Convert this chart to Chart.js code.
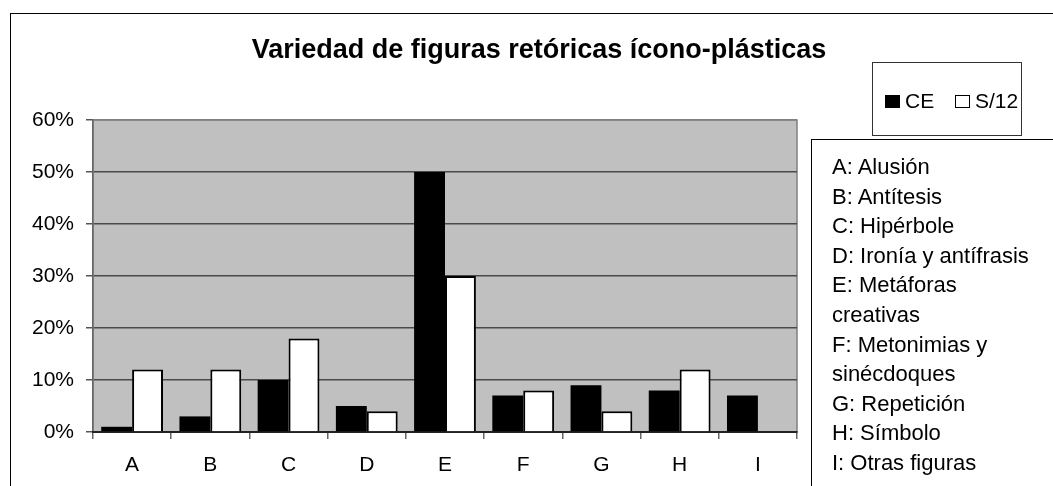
<!DOCTYPE html>
<html>
<head>
<meta charset="utf-8">
<script src="https://cdn.jsdelivr.net/npm/chart.js@4.4.1/dist/chart.umd.min.js"></script>
<style>
  html, body { margin: 0; padding: 0; background: #fff; overflow: hidden; }
  #wrap { position: relative; width: 1053px; height: 486px; overflow: hidden; font-family: "Liberation Sans", Arial, sans-serif; color: #000; }
  #frame { position: absolute; left: 10px; top: 13px; width: 2000px; height: 2000px; border-left: 1.5px solid #000; border-top: 1.5px solid #000; }
  canvas { position: absolute; left: 0; top: 0; }
  #title { position: absolute; left: 0; width: 1078px; top: 35.5px; text-align: center; font-weight: bold; font-size: 27px; line-height: 27px; white-space: nowrap; }
  #legend { position: absolute; left: 872px; top: 62px; width: 150px; height: 74px; border: 1px solid #333; box-sizing: border-box; }
  #legend .item { position: absolute; top: 26px; font-size: 21px; line-height: 24px; white-space: nowrap; }
  #legend .sw { display: inline-block; width: 15px; height: 13px; box-sizing: border-box; border: 1.5px solid #000; vertical-align: 0px; margin-right: 5px; }
  #desc { position: absolute; left: 811px; top: 139px; width: 400px; height: 400px; border-left: 1.5px solid #000; border-top: 1.5px solid #000; padding: 12px 0 0 20px; font-size: 22px; line-height: 29.6px; }
  #desc div { white-space: nowrap; }
</style>
</head>
<body>
<div id="wrap">
  <div id="frame"></div>
  <canvas id="c" width="1053" height="486"></canvas>
  <div id="title"></div>
  <div id="legend"></div>
  <div id="desc"></div>
</div>
<script>
const chartTitle = "Variedad de figuras retóricas ícono-plásticas";
const categories = ["A", "B", "C", "D", "E", "F", "G", "H", "I"];
const seriesNames = ["CE", "S/12"];
const valuesCE = [0.01, 0.03, 0.10, 0.05, 0.50, 0.07, 0.09, 0.08, 0.07];
const valuesS12 = [0.12, 0.12, 0.18, 0.04, 0.30, 0.08, 0.04, 0.12, 0];
const yTicks = [0, 0.1, 0.2, 0.3, 0.4, 0.5, 0.6];
const descriptionLines = ["A: Alusión", "B: Antítesis", "C: Hipérbole", "D: Ironía y antífrasis", "E: Metáforas", "creativas", "F: Metonimias y", "sinécdoques", "G: Repetición", "H: Símbolo", "I: Otras figuras"];

document.getElementById('title').textContent = chartTitle;
const desc = document.getElementById('desc');
descriptionLines.forEach(t => { const d = document.createElement('div'); d.textContent = t; desc.appendChild(d); });

const plotBg = {
  id: 'plotBg',
  beforeDraw(chart) {
    const {ctx, chartArea: a} = chart;
    ctx.save();
    ctx.fillStyle = '#c0c0c0';
    ctx.fillRect(a.left, a.top, a.right - a.left, a.bottom - a.top);
    ctx.strokeStyle = '#808080';
    ctx.lineWidth = 1.5;
    ctx.strokeRect(a.left, a.top, a.right - a.left, a.bottom - a.top);
    ctx.restore();
  }
};

const FONT = "'Liberation Sans', Arial, sans-serif";

const chart = new Chart(document.getElementById('c'), {
  type: 'bar',
  data: {
    labels: categories,
    datasets: [
      { label: seriesNames[0], data: valuesCE, backgroundColor: '#000000', borderColor: '#000000', borderWidth: 0, categoryPercentage: 0.79, barPercentage: 1.0 },
      { label: seriesNames[1], data: valuesS12, backgroundColor: '#ffffff', borderColor: '#000000', borderWidth: 2, categoryPercentage: 0.79, barPercentage: 1.0 }
    ]
  },
  options: {
    responsive: false,
    animation: false,
    devicePixelRatio: 1,
    layout: { padding: { left: 10, top: 120, right: 256, bottom: 0 } },
    plugins: { legend: { display: false }, title: { display: false }, tooltip: { enabled: false } },
    events: [],
    scales: {
      y: {
        min: 0, max: 0.6,
        afterBuildTicks(s) { s.ticks = yTicks.map(v => ({ value: v })); },
        afterFit(s) { s.width = 83; },
        ticks: { callback: v => Math.round(v * 100) + '%', color: '#000', padding: 12, font: { family: FONT, size: 21 } },
        grid: { color: c => (c.tick && Math.abs(c.tick.value - 0.6) < 1e-9) ? '#808080' : '#4a4a4a', lineWidth: 1.5, tickLength: 7, tickColor: '#555' },
        border: { display: true, color: '#666', width: 1.5 }
      },
      x: {
        afterFit(s) { s.height = 54; },
        ticks: { color: '#000', padding: 14, font: { family: FONT, size: 21 } },
        grid: { offset: true, drawOnChartArea: false, drawTicks: true, tickLength: 7, tickColor: '#666', lineWidth: 1.5 },
        border: { display: true, color: '#222', width: 2 }
      }
    }
  },
  plugins: [plotBg]
});

// HTML legend built from the chart's datasets
const legend = document.getElementById('legend');
const legendX = [12, 82];
chart.data.datasets.forEach((ds, i) => {
  const item = document.createElement('div');
  item.className = 'item';
  item.style.left = legendX[i] + 'px';
  const sw = document.createElement('span');
  sw.className = 'sw';
  sw.style.background = ds.backgroundColor;
  item.appendChild(sw);
  item.appendChild(document.createTextNode(ds.label));
  legend.appendChild(item);
});
</script>
</body>
</html>
